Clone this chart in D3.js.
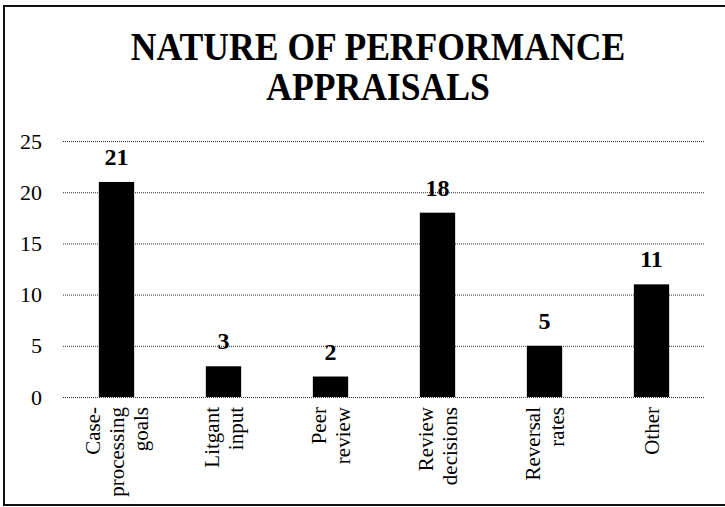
<!DOCTYPE html>
<html>
<head>
<meta charset="utf-8">
<script src="https://cdn.jsdelivr.net/npm/d3@7"></script>
<style>
  body { margin: 0; background: #fff; }
  svg { display: block; }
</style>
</head>
<body>
<svg id="chart" width="725" height="507"></svg>
<script>
// data
let categories = ["Case-processing goals", "Litgant input", "Peer review", "Review decisions", "Reversal rates", "Other"]
let labelLines = [["Case-", "processing", "goals"], ["Litgant", "input"], ["Peer", "review"], ["Review", "decisions"], ["Reversal", "rates"], ["Other"]]
let counts = [21, 3, 2, 18, 5, 11]
let yTicks = [0, 5, 10, 15, 20, 25]

let width = 725
let height = 507
let margin = { top: 141, right: 20, bottom: 110, left: 63 }
let serif = "'Liberation Serif', 'Times New Roman', serif"

let svg = d3.select("#chart")

let data = categories.map((c, i) => ({ cat: c, lines: labelLines[i], value: counts[i] }))

let x = d3.scaleBand()
    .domain(categories)
    .range([margin.left, width - margin.right])
    .paddingInner(0.67)
    .paddingOuter(0.335)

let y = d3.scaleLinear()
    .domain([0, 25])
    .range([height - margin.bottom, margin.top])

// frame
svg.append("rect")
    .attr("x", 4)
    .attr("y", 6)
    .attr("width", width + 10)
    .attr("height", 499)
    .style("fill", "none")
    .style("stroke", "#111")
    .style("stroke-width", 2)

// title, a little condensed like the scan
let title = svg.append("g")
    .attr("transform", "translate(378,0) scale(0.89,1)")
    .append("text")
    .attr("text-anchor", "middle")
    .style("font-family", serif)
    .style("font-size", "40px")
    .style("font-weight", "bold")
    .style("fill", "#000")
title.append("tspan").attr("x", 0).attr("y", 60).text("NATURE OF PERFORMANCE")
title.append("tspan").attr("x", 0).attr("y", 100).text("APPRAISALS")

// y axis with dotted gridlines
let yAxisSettings = d3.axisLeft(y)
    .tickValues(yTicks)
    .tickSize(-(width - margin.right - margin.left))
    .tickPadding(21)

let yAxisTicks = svg.append("g")
    .attr("class", "y axis")
    .attr("transform", `translate(${margin.left},0)`)
    .call(yAxisSettings)

yAxisTicks.select(".domain").remove()
yAxisTicks.selectAll(".tick line")
    .style("stroke", "#333")
    .style("stroke-width", 1)
    .style("stroke-dasharray", "1,1")
yAxisTicks.selectAll(".tick text")
    .style("font-family", serif)
    .style("font-size", "22px")
    .style("fill", "#000")

// bars
svg.append("g")
    .selectAll("rect")
    .data(data)
    .join("rect")
    .attr("x", d => x(d.cat))
    .attr("y", d => y(d.value))
    .attr("width", x.bandwidth())
    .attr("height", d => y(0) - y(d.value))
    .style("fill", "#000")

// value labels
svg.append("g")
    .selectAll("text")
    .data(data)
    .join("text")
    .attr("text-anchor", "middle")
    .attr("x", d => x(d.cat) + x.bandwidth() / 2)
    .attr("y", d => y(d.value) - 17)
    .style("font-family", serif)
    .style("font-size", "24px")
    .style("font-weight", "bold")
    .text(d => d.value)

// rotated category labels
let lineHeight = 24
let catLabels = svg.append("g")
    .selectAll("text")
    .data(data)
    .join("text")
    .attr("text-anchor", "end")
    .attr("transform", d => `translate(${x(d.cat) + x.bandwidth() / 2},${y(0) + 10}) rotate(-90)`)
    .style("font-family", serif)
    .style("font-size", "21px")
    .style("fill", "#000")

catLabels.selectAll("tspan")
    .data(d => d.lines.map((t, i) => ({ t: t, i: i, n: d.lines.length })))
    .join("tspan")
    .attr("x", 0)
    .attr("y", d => (d.i - (d.n - 1) / 2) * lineHeight + 7)
    .text(d => d.t)
</script>
</body>
</html>
